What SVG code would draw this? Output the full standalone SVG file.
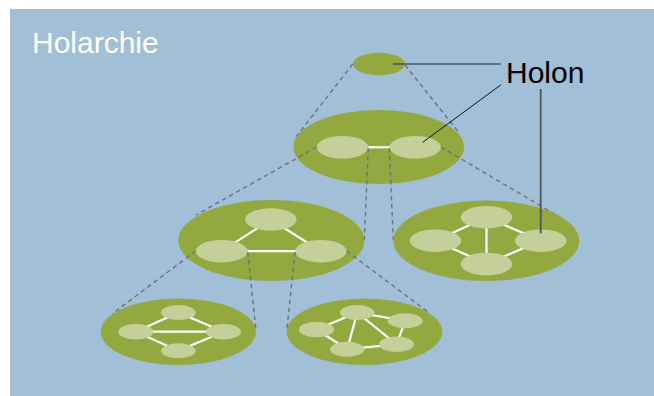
<svg xmlns="http://www.w3.org/2000/svg" width="654" height="396" viewBox="0 0 654 396">
<style>
.bg{fill:#a1bfd6}
.holon{fill:#93a83f}
.part{fill:#c5cf9a}
.link{stroke:#ffffff;stroke-width:2.2;fill:none}
.proj{stroke:#6b7380;stroke-width:1.4;stroke-dasharray:4.5 3.5;fill:none}
.t{font-family:"Liberation Sans",Arial,sans-serif}
</style>
<rect x="0" y="0" width="654" height="396" fill="#ffffff"/>
<rect class="bg" x="10" y="9" width="644" height="387"/>
<text class="t" x="32" y="52.5" font-size="30" fill="#ffffff">Holarchie</text>

<g id="connectors">
<line class="proj" x1="352.7" y1="64" x2="296" y2="137"/>
<line class="proj" x1="405" y1="65" x2="460" y2="134"/>
</g>

<g id="holon-top">
<ellipse class="holon" cx="379" cy="64" rx="26" ry="11.2"/>
</g>

<g id="holon-level2">
<ellipse class="holon" cx="378.7" cy="147" rx="85.3" ry="37"/>
<line class="link" x1="366" y1="147.3" x2="392" y2="147.3"/>
<ellipse class="part" cx="342.5" cy="147.3" rx="25.8" ry="11.3"/>
<ellipse class="part" cx="415.2" cy="147.3" rx="25.8" ry="11.3"/>
</g>

<g id="connectors-2">
<line class="proj" x1="316.7" y1="147" x2="196" y2="215"/>
<line class="proj" x1="368.3" y1="148" x2="364.3" y2="240"/>
<line class="proj" x1="389.3" y1="148" x2="393.3" y2="240"/>
<line class="proj" x1="441" y1="147" x2="563" y2="219"/>
</g>

<g id="holon-level3-left">
<ellipse class="holon" cx="271.3" cy="240.5" rx="93" ry="40.5"/>
<line class="link" x1="270.8" y1="219.5" x2="221.7" y2="251.2"/>
<line class="link" x1="270.8" y1="219.5" x2="320.8" y2="251.2"/>
<line class="link" x1="221.7" y1="251.2" x2="320.8" y2="251.2"/>
<ellipse class="part" cx="270.8" cy="219.5" rx="25.8" ry="11.2"/>
<ellipse class="part" cx="221.7" cy="251.2" rx="26" ry="11.2"/>
<ellipse class="part" cx="320.8" cy="251.2" rx="25.8" ry="11.2"/>
</g>

<g id="holon-level3-right">
<ellipse class="holon" cx="486.3" cy="240.8" rx="93" ry="40.2"/>
<line class="link" x1="486.5" y1="217.2" x2="486.5" y2="264"/>
<line class="link" x1="486.5" y1="217.2" x2="435.5" y2="240.7"/>
<line class="link" x1="486.5" y1="217.2" x2="540.8" y2="240.7"/>
<line class="link" x1="486.5" y1="264" x2="435.5" y2="240.7"/>
<line class="link" x1="486.5" y1="264" x2="540.8" y2="240.7"/>
<ellipse class="part" cx="486.5" cy="217.2" rx="25.8" ry="11.2"/>
<ellipse class="part" cx="435.5" cy="240.7" rx="25.8" ry="11.2"/>
<ellipse class="part" cx="540.8" cy="240.7" rx="25.8" ry="11.2"/>
<ellipse class="part" cx="486.5" cy="264" rx="25.8" ry="11.3"/>
</g>

<g id="connectors-3">
<line class="proj" x1="195.7" y1="251" x2="112" y2="314"/>
<line class="proj" x1="247.7" y1="252" x2="256" y2="331"/>
<line class="proj" x1="295" y1="252" x2="286.7" y2="331"/>
<line class="proj" x1="346.7" y1="251" x2="428" y2="312"/>
</g>

<g id="holon-level4-left">
<ellipse class="holon" cx="178.3" cy="331.7" rx="77.7" ry="33.3"/>
<line class="link" x1="178.3" y1="312.5" x2="135.8" y2="331.7"/>
<line class="link" x1="178.3" y1="312.5" x2="223.5" y2="331.7"/>
<line class="link" x1="178.3" y1="350.8" x2="135.8" y2="331.7"/>
<line class="link" x1="178.3" y1="350.8" x2="223.5" y2="331.7"/>
<line class="link" x1="135.8" y1="331.7" x2="223.5" y2="331.7"/>
<ellipse class="part" cx="178.3" cy="312.5" rx="17.3" ry="7.5"/>
<ellipse class="part" cx="135.8" cy="331.7" rx="17.5" ry="7.7"/>
<ellipse class="part" cx="223.5" cy="331.7" rx="17.5" ry="7.7"/>
<ellipse class="part" cx="178.3" cy="350.8" rx="17.3" ry="7.5"/>
</g>

<g id="holon-level4-right">
<ellipse class="holon" cx="364.5" cy="331.7" rx="77.8" ry="33.3"/>
<line class="link" x1="357.2" y1="312.5" x2="316.5" y2="329.5"/>
<line class="link" x1="357.2" y1="312.5" x2="405.2" y2="320.8"/>
<line class="link" x1="357.2" y1="312.5" x2="347.2" y2="349.2"/>
<line class="link" x1="357.2" y1="312.5" x2="396.5" y2="344.3"/>
<line class="link" x1="405.2" y1="320.8" x2="396.5" y2="344.3"/>
<line class="link" x1="347.2" y1="349.2" x2="396.5" y2="344.3"/>
<line class="link" x1="316.5" y1="329.5" x2="347.2" y2="349.2"/>
<ellipse class="part" cx="357.2" cy="312.5" rx="17.2" ry="7.5"/>
<ellipse class="part" cx="405.2" cy="320.8" rx="17.5" ry="7.5"/>
<ellipse class="part" cx="316.5" cy="329.5" rx="17.5" ry="7.8"/>
<ellipse class="part" cx="347.2" cy="349.2" rx="17.2" ry="7.5"/>
<ellipse class="part" cx="396.5" cy="344.3" rx="17.5" ry="7.7"/>
</g>

<g id="label-holon">
<line x1="393" y1="64" x2="500.7" y2="64" stroke="#4a5560" stroke-width="1.6"/>
<line x1="422.7" y1="142.3" x2="500.7" y2="85" stroke="#111111" stroke-width="1"/>
<line x1="540.7" y1="89" x2="540.7" y2="233.3" stroke="#4a5560" stroke-width="1.8"/>
<text class="t" x="506" y="83.3" font-size="30" fill="#000000">Holon</text>
</g>
</svg>
